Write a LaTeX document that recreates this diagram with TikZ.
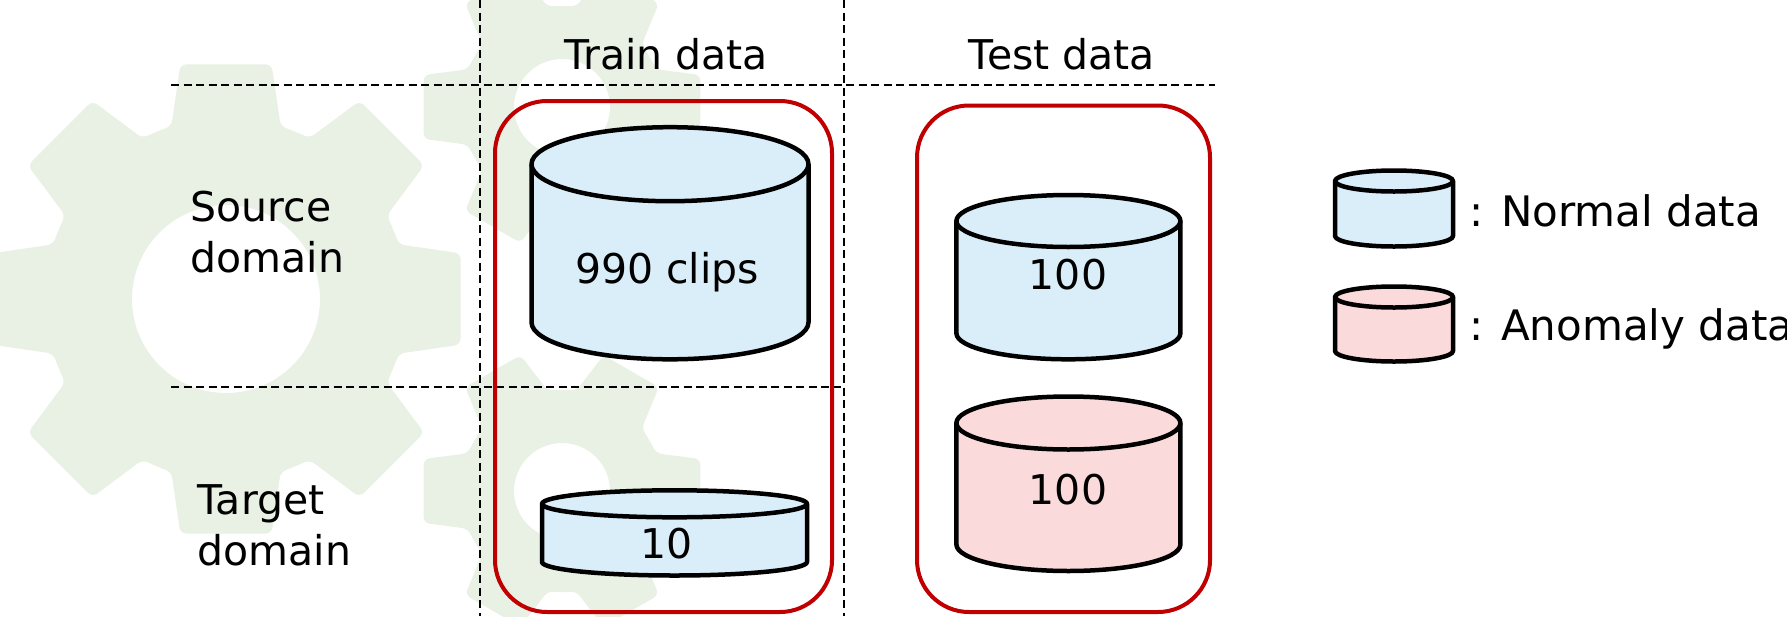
\documentclass[tikz,border=0pt]{standalone}
\usepackage{fontspec}
\setmainfont{DejaVu Sans}

\definecolor{gearc}{RGB}{232,241,228}
\definecolor{normalc}{RGB}{218,238,250}
\definecolor{anomc}{RGB}{250,218,218}
\definecolor{boxred}{RGB}{192,0,0}

\tikzset{
  drumline/.style={line width=4.5pt, line join=round, draw=black},
  gridline/.style={line width=2pt, dash pattern=on 8pt off 4.5pt},
  setbox/.style={draw=boxred, line width=4pt, rounded corners=52pt},
  lbl/.style={font=\fontsize{41}{50}\selectfont, inner sep=0pt, anchor=base},
  legtext/.style={font=\fontsize{42}{50}\selectfont, inner sep=0pt, anchor=base west},
}

% gear: centre x, centre y, teeth, body radius, tip radius,
%       base half-angle, tip half-angle, hole radius, phase
\newcommand\gear[9]{%
  \begin{scope}[shift={(#1,#2)}]
    \pgfmathsetmacro\gstep{360/#3}
    \fill[gearc, even odd rule, rounded corners=6pt]
      (#9-\gstep/2:#4pt)
      \foreach \k [evaluate=\k as \ga using #9+(\k-1)*\gstep] in {1,...,#3}{
        arc[start angle=\ga-\gstep/2, end angle=\ga-#6, radius=#4pt]
        -- (\ga-#7:#5pt) -- (\ga+#7:#5pt) -- (\ga+#6:#4pt)
        arc[start angle=\ga+#6, end angle=\ga+\gstep/2, radius=#4pt]
      }
      (0,0) circle[radius=#8pt];
  \end{scope}}

% drum: fill, centre x, top y, bottom y, x radius, y radius
\newcommand\drum[6]{%
  \filldraw[drumline, fill=#1]
    (#2-#5,#3) -- (#2-#5,#4)
    arc[start angle=180, end angle=360, x radius=#5pt, y radius=#6pt]
    -- (#2+#5,#3)
    arc[start angle=0, end angle=180, x radius=#5pt, y radius=#6pt] -- cycle;
  \draw[drumline] (#2-#5,#3)
    arc[start angle=180, end angle=360, x radius=#5pt, y radius=#6pt];}

\begin{document}
\begin{tikzpicture}[x=1pt,y=-1pt]
\useasboundingbox (0,0) rectangle (1787,616);

% background gears
\gear{226}{299}{8}{181}{239}{17.6}{11}{94}{0}
\gear{562}{107}{6}{101}{142}{22}{13}{48}{0}
\gear{562}{491}{6}{101}{142}{22}{13}{48}{0}

% table grid
\coordinate (v1t) at (479.5,0);   \coordinate (v1b) at (479.5,616);
\coordinate (v2t) at (844,0);     \coordinate (v2b) at (844,616);
\coordinate (h1l) at (171,84.5);  \coordinate (h1r) at (1215,84.5);
\coordinate (h2l) at (171,387);   \coordinate (h2r) at (841,387);
\draw[gridline] (v1t) -- (v1b);
\draw[gridline] (v2t) -- (v2b);
\draw[gridline] (h1l) -- (h1r);
\draw[gridline] (h2l) -- (h2r);

% data sets
\draw[setbox] (495,101) rectangle (832,612);
\draw[setbox] (917,105.5) rectangle (1210,612);

% data drums
\drum{normalc}{670}{164.2}{322.3}{138.5}{37}
\drum{normalc}{674.5}{503.8}{562}{132.5}{13.5}
\drum{normalc}{1068.4}{221}{333.3}{112}{26}
\drum{anomc}{1068.4}{423}{544.5}{112}{26.5}
\drum{normalc}{1394}{181}{236}{59}{10.5}
\drum{anomc}{1394}{297}{351}{59}{10.5}

% labels
\node[lbl] (train) at (666,69) {Train data};
\node[lbl] (test) at (1062,69) {Test data};
\node[lbl, anchor=base west] (src1) at (190.5,221) {Source};
\node[lbl, anchor=base west] (src2) at (190.5,272) {domain};
\node[lbl, anchor=base west] (tgt1) at (197.5,514) {Target};
\node[lbl, anchor=base west] (tgt2) at (197.5,565) {domain};
\node[lbl] (n990) at (667,283) {990 clips};
\node[lbl] (n10) at (667,558) {10};
\node[lbl] (n100a) at (1068,289) {100};
\node[lbl] (n100b) at (1068,504) {100};
\node[legtext] (legn) at (1469,226.5) {: Normal data};
\node[legtext] (lega) at (1469,340) {: Anomaly data};
\end{tikzpicture}
\end{document}
